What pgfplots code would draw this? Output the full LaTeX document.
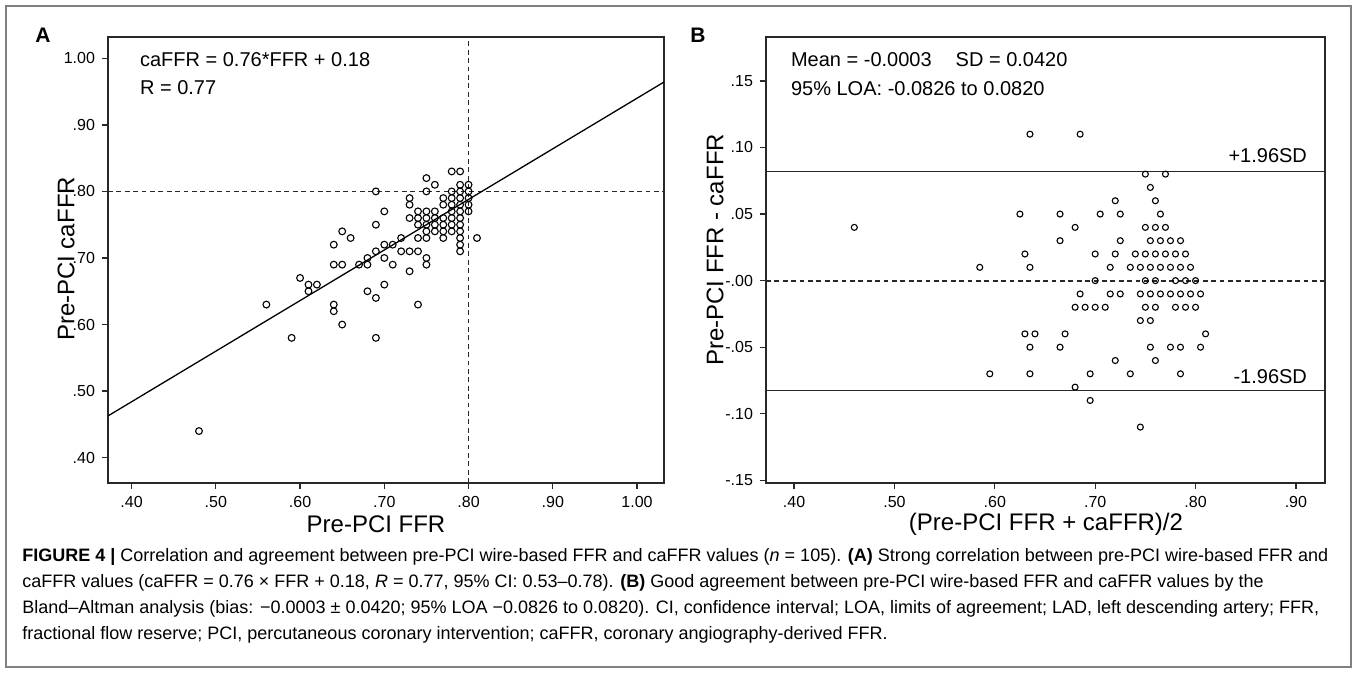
\documentclass[border=0pt]{standalone}
\usepackage{pgfplots}
\pgfplotsset{compat=1.18}
\usepackage{pgfplotstable}
\usepackage{fontspec}
\setmainfont{Liberation Sans}
\newfontfamily\capfont{Liberation Sans}
\definecolor{axcol}{RGB}{40,40,40}

\pgfplotstableread{
f c
0.78 0.83
0.79 0.83
0.75 0.82
0.76 0.81
0.79 0.81
0.80 0.81
0.69 0.80
0.75 0.80
0.78 0.80
0.79 0.80
0.80 0.80
0.73 0.79
0.77 0.79
0.78 0.79
0.79 0.79
0.80 0.79
0.73 0.78
0.77 0.78
0.78 0.78
0.79 0.78
0.80 0.78
0.70 0.77
0.74 0.77
0.75 0.77
0.76 0.77
0.78 0.77
0.79 0.77
0.80 0.77
0.73 0.76
0.74 0.76
0.75 0.76
0.76 0.76
0.77 0.76
0.78 0.76
0.79 0.76
0.69 0.75
0.74 0.75
0.75 0.75
0.76 0.75
0.77 0.75
0.78 0.75
0.79 0.75
0.65 0.74
0.75 0.74
0.76 0.74
0.77 0.74
0.78 0.74
0.79 0.74
0.66 0.73
0.72 0.73
0.74 0.73
0.75 0.73
0.77 0.73
0.79 0.73
0.81 0.73
0.64 0.72
0.70 0.72
0.71 0.72
0.79 0.72
0.69 0.71
0.72 0.71
0.73 0.71
0.74 0.71
0.79 0.71
0.68 0.70
0.70 0.70
0.75 0.70
0.64 0.69
0.65 0.69
0.67 0.69
0.68 0.69
0.71 0.69
0.75 0.69
0.73 0.68
0.60 0.67
0.61 0.66
0.62 0.66
0.70 0.66
0.61 0.65
0.68 0.65
0.69 0.64
0.56 0.63
0.64 0.63
0.74 0.63
0.64 0.62
0.65 0.60
0.59 0.58
0.69 0.58
0.48 0.44
}\dataA

\pgfplotstableread{
m d
0.805 -0.05
0.81 -0.04
0.785 -0.07
0.785 -0.05
0.80 -0.02
0.805 -0.01
0.745 -0.11
0.775 -0.05
0.79 -0.02
0.795 -0.01
0.80 0.00
0.76 -0.06
0.78 -0.02
0.785 -0.01
0.79 0.00
0.795 0.01
0.755 -0.05
0.775 -0.01
0.78 0.00
0.785 0.01
0.79 0.02
0.735 -0.07
0.755 -0.03
0.76 -0.02
0.765 -0.01
0.775 0.01
0.78 0.02
0.785 0.03
0.745 -0.03
0.75 -0.02
0.755 -0.01
0.76 0.00
0.765 0.01
0.77 0.02
0.775 0.03
0.72 -0.06
0.745 -0.01
0.75 0.00
0.755 0.01
0.76 0.02
0.765 0.03
0.77 0.04
0.695 -0.09
0.745 0.01
0.75 0.02
0.755 0.03
0.76 0.04
0.765 0.05
0.695 -0.07
0.725 -0.01
0.735 0.01
0.74 0.02
0.75 0.04
0.76 0.06
0.77 0.08
0.68 -0.08
0.71 -0.02
0.715 -0.01
0.755 0.07
0.70 -0.02
0.715 0.01
0.72 0.02
0.725 0.03
0.75 0.08
0.69 -0.02
0.70 0.00
0.725 0.05
0.665 -0.05
0.67 -0.04
0.68 -0.02
0.685 -0.01
0.70 0.02
0.72 0.06
0.705 0.05
0.635 -0.07
0.635 -0.05
0.64 -0.04
0.68 0.04
0.63 -0.04
0.665 0.03
0.665 0.05
0.595 -0.07
0.635 0.01
0.685 0.11
0.63 0.02
0.625 0.05
0.585 0.01
0.635 0.11
0.46 0.04
}\dataB

\pgfplotsset{
  spss/.style={
    scale only axis, anchor=north west,
    axis line style={axcol, line width=0.65pt},
    tick align=outside, tick pos=left,
    major tick length=3pt,
    tick style={axcol, line width=0.65pt},
    tick label style={font=\fontsize{8}{9}\selectfont, text=black},
    clip=true,
  },
  dash/.style={axcol, line width=0.75pt, dash pattern=on 2.4pt off 1.8pt},
}

\begin{document}
\begin{tikzpicture}[x=1pt,y=1pt]
\path[use as bounding box] (0,0) rectangle (678.5,336.5);
\draw[color=black!50, line width=0.8pt] (3,3) rectangle (675.5,333.5);

% ---------------- Panel A ----------------
\begin{axis}[spss,
  at={(54pt,318pt)}, width=278pt, height=223pt,
  xmin=0.372, xmax=1.032, ymin=0.362, ymax=1.032,
  xtick={0.4,0.5,0.6,0.7,0.8,0.9,1.0},
  xticklabels={.40,.50,.60,.70,.80,.90,1.00},
  ytick={0.4,0.5,0.6,0.7,0.8,0.9,1.0},
  yticklabels={.40,.50,.60,.70,.80,.90,1.00},
]
\addplot[dash] coordinates {(0.372,0.80) (1.032,0.80)};
\addplot[dash] coordinates {(0.80,0.362) (0.80,1.032)};
\addplot[black, line width=0.65pt] coordinates {(0.372,0.46272) (1.032,0.96432)};
\addplot[only marks, mark=o, mark size=1.7pt, mark options={black, line width=0.55pt}] table[x=f, y=c] {\dataA};
\end{axis}

% ---------------- Panel B ----------------
\begin{axis}[spss,
  at={(383pt,318pt)}, width=279.5pt, height=223pt,
  xmin=0.372, xmax=0.929, ymin=-0.152, ymax=0.183,
  xtick={0.4,0.5,0.6,0.7,0.8,0.9},
  xticklabels={.40,.50,.60,.70,.80,.90},
  ytick={-0.15,-0.10,-0.05,0,0.05,0.10,0.15},
  yticklabels={-.15,-.10,-.05,-.00,.05,.10,.15},
]
\addplot[axcol, line width=0.8pt] coordinates {(0.372,0.0820) (0.929,0.0820)};
\addplot[axcol, line width=0.8pt] coordinates {(0.372,-0.0826) (0.929,-0.0826)};
\addplot[dash] coordinates {(0.372,-0.0003) (0.929,-0.0003)};
\addplot[only marks, mark=o, mark size=1.5pt, mark options={black, line width=0.55pt}] table[x=m, y=d] {\dataB};
\end{axis}

% ---------------- Texts ----------------
\node[font=\bfseries\fontsize{10.5}{12}\selectfont] at (21.5,319) {A};
\node[font=\bfseries\fontsize{10.5}{12}\selectfont] at (349,319) {B};

\node[anchor=west, font=\fontsize{10}{12}\selectfont] at (66.5,306.5) {caFFR = 0.76*FFR + 0.18};
\node[anchor=west, font=\fontsize{10}{12}\selectfont] at (66.5,292.5) {R = 0.77};
\node[anchor=west, font=\fontsize{10}{12}\selectfont] at (392,306.5) {Mean = -0.0003\hspace{12pt}SD = 0.0420};
\node[anchor=west, font=\fontsize{10}{12}\selectfont] at (392,292) {95\% LOA: -0.0826 to 0.0820};
\node[anchor=east, font=\fontsize{10}{12}\selectfont] at (657,258.5) {+1.96SD};
\node[anchor=east, font=\fontsize{10}{12}\selectfont] at (657,148) {-1.96SD};

\node[rotate=90, font=\fontsize{12}{14}\selectfont] at (33,207) {Pre-PCI caFFR};
\node[rotate=90, font=\fontsize{12}{14}\selectfont] at (357.5,211.5) {Pre-PCI FFR - caFFR};
\node[font=\fontsize{12}{14}\selectfont] at (188,74.5) {Pre-PCI FFR};
\node[font=\fontsize{12}{14}\selectfont] at (523,74.5) {(Pre-PCI FFR + caFFR)/2};

% ---------------- Caption ----------------
\begin{scope}[every node/.style={anchor=base west, inner sep=0pt, font=\capfont\fontsize{9}{10}\selectfont}]
\node at (11,55.5) {\textbf{FIGURE 4 |} Correlation and agreement between pre-PCI wire-based FFR and caFFR values (\textit{n} = 105). \textbf{(A)} Strong correlation between pre-PCI wire-based FFR and};
\node at (11,42.5) {caFFR values (caFFR = 0.76 × FFR + 0.18, \textit{R} = 0.77, 95\% CI: 0.53–0.78). \textbf{(B)} Good agreement between pre-PCI wire-based FFR and caFFR values by the};
\node at (11,29.5) {Bland–Altman analysis (bias: −0.0003 ± 0.0420; 95\% LOA −0.0826 to 0.0820). CI, confidence interval; LOA, limits of agreement; LAD, left descending artery; FFR,};
\node at (11,16.5) {fractional flow reserve; PCI, percutaneous coronary intervention; caFFR, coronary angiography-derived FFR.};
\end{scope}
\end{tikzpicture}
\end{document}
